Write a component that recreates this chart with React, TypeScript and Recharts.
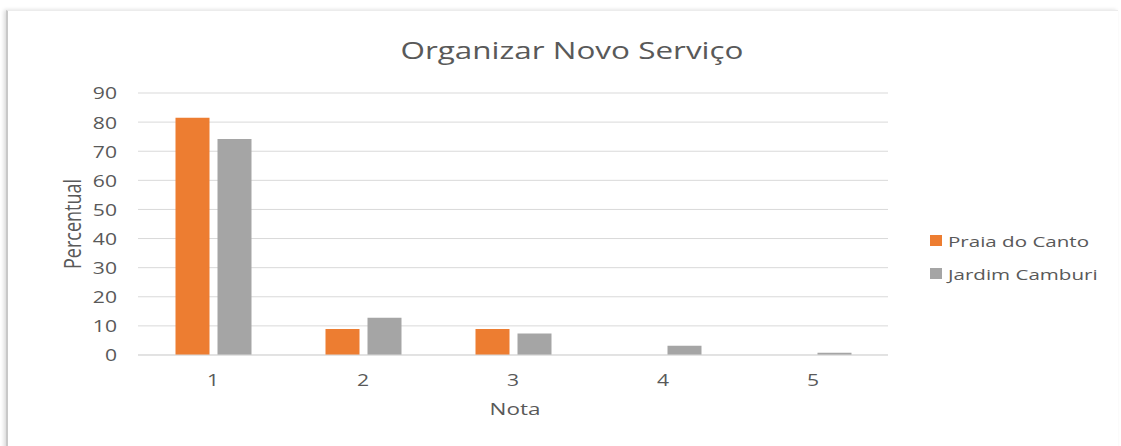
import React from "react";
import { BarChart, Bar, XAxis, YAxis, CartesianGrid } from "recharts";

const notas = ["1", "2", "3", "4", "5"];
const praiaDoCanto = [81.5, 8.9, 8.9, 0, 0];
const jardimCamburi = [74.2, 12.8, 7.4, 3.2, 0.8];
const yTicks = [0, 10, 20, 30, 40, 50, 60, 70, 80, 90];

const data = notas.map((nota, i) => ({
  nota,
  praia: praiaDoCanto[i],
  jardim: jardimCamburi[i],
}));

const textColor = "#595959";
const font = "'Open Sans', sans-serif";
// the reference picture is stretched sideways, so texts get widened too
const stretch = 1.32;

function YTick({ x, y, payload }: any) {
  return (
    <text
      transform={`translate(${x},${y}) scale(${stretch},1)`}
      textAnchor="end"
      dominantBaseline="central"
      fill={textColor}
      fontSize={16}
      fontFamily={font}>
      {payload.value}
    </text>
  );
}

function XTick({ x, y, payload }: any) {
  return (
    <text
      transform={`translate(${x},${y}) scale(${stretch},1)`}
      textAnchor="middle"
      dominantBaseline="central"
      fill={textColor}
      fontSize={16}
      fontFamily={font}>
      {payload.value}
    </text>
  );
}

function LegendBox() {
  const items = [
    { label: "Praia do Canto", color: "#ED7D31" },
    { label: "Jardim Camburi", color: "#A5A5A5" },
  ];
  return (
    <div
      style={{
        position: "absolute",
        left: 930,
        top: 224,
        fontFamily: font,
        fontSize: 15,
        color: textColor,
      }}>
      {items.map((it) => (
        <div
          key={it.label}
          style={{ display: "flex", alignItems: "center", height: 33 }}>
          <span
            style={{
              width: 12,
              height: 11,
              background: it.color,
              marginRight: 6,
              display: "inline-block",
            }}
          />
          <span
            style={{
              display: "inline-block",
              transform: "scaleX(1.37)",
              transformOrigin: "left center",
              whiteSpace: "nowrap",
            }}>
            {it.label}
          </span>
        </div>
      ))}
    </div>
  );
}

export default function App() {
  return (
    <div
      style={{
        position: "absolute",
        left: 0,
        top: 0,
        width: 1121,
        height: 446,
        background: "#fff",
        overflow: "hidden",
      }}>
      <div
        style={{
          position: "absolute",
          left: 6,
          top: 10,
          width: 1110,
          height: 450,
          borderLeft: "2px solid #c8c8c8",
          borderTop: "1px solid #ececec",
          boxShadow: "-2px 0 4px rgba(0,0,0,0.15)",
        }}
      />
      <div
        style={{
          position: "absolute",
          left: 572,
          top: 33,
          transform: "translateX(-50%) scaleX(1.31)",
          fontFamily: font,
          fontSize: 24,
          color: textColor,
          whiteSpace: "nowrap",
        }}>
        Organizar Novo Serviço
      </div>
      <div
        style={{
          position: "absolute",
          left: 72,
          top: 224,
          transform: `translate(-50%, -50%) scaleX(${stretch}) rotate(-90deg)`,
          fontFamily: font,
          fontSize: 18,
          color: textColor,
          whiteSpace: "nowrap",
        }}>
        Percentual
      </div>
      <div
        style={{
          position: "absolute",
          left: 515,
          top: 408,
          transform: `translate(-50%, -50%) scaleX(${stretch})`,
          fontFamily: font,
          fontSize: 17,
          color: textColor,
        }}>
        Nota
      </div>
      <div style={{ position: "absolute", left: 0, top: 0 }}>
        <BarChart
          width={1121}
          height={446}
          data={data}
          margin={{ top: 93, right: 233, bottom: 31, left: 60 }}
          barCategoryGap="25%"
          barGap={8}>
          <CartesianGrid vertical={false} stroke="#d9d9d9" />
          <XAxis
            dataKey="nota"
            height={60}
            tickLine={false}
            tickSize={0}
            tickMargin={25}
            axisLine={{ stroke: "#d9d9d9" }}
            tick={<XTick />}
          />
          <YAxis
            width={78}
            domain={[0, 90]}
            ticks={yTicks}
            interval={0}
            tickLine={false}
            tickSize={0}
            tickMargin={21}
            axisLine={false}
            tick={<YTick />}
          />
          <Bar dataKey="praia" name="Praia do Canto" fill="#ED7D31" isAnimationActive={false} />
          <Bar dataKey="jardim" name="Jardim Camburi" fill="#A5A5A5" isAnimationActive={false} />
        </BarChart>
      </div>
      <LegendBox />
    </div>
  );
}
